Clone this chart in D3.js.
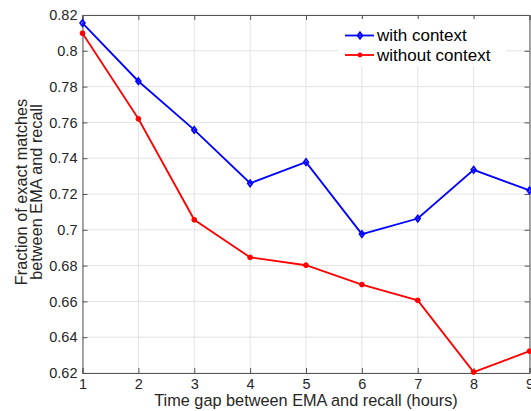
<!DOCTYPE html>
<html>
<head>
<meta charset="utf-8">
<script src="https://cdn.jsdelivr.net/npm/d3@7"></script>
<style>
  body { margin: 0; background: #fff; }
  svg { display: block; font-family: "Liberation Sans", Arial, sans-serif; }
</style>
</head>
<body>
<div id="chart"></div>
<script>
const hours = [1, 2, 3, 4, 5, 6, 7, 8, 9];
const withContext = [0.8155, 0.783, 0.7558, 0.726, 0.7378, 0.6976, 0.7063, 0.7335, 0.722];
const withoutContext = [0.8098, 0.762, 0.7056, 0.6846, 0.6802, 0.6694, 0.6606, 0.6205, 0.6322];
const yTicks = [0.62, 0.64, 0.66, 0.68, 0.7, 0.72, 0.74, 0.76, 0.78, 0.8, 0.82];
const seriesNames = ["with context", "without context"];

const W = 531, H = 411;
const margin = {top: 15, right: 1.5, bottom: 38, left: 82.5};
const width = W - margin.left - margin.right;
const height = H - margin.top - margin.bottom;

const svg = d3.select("#chart").append("svg")
    .attr("width", W).attr("height", H);
const g = svg.append("g").attr("transform", `translate(${margin.left},${margin.top})`);

const x = d3.scaleLinear().domain([1, 9]).range([0, width]);
const y = d3.scaleLinear().domain([0.62, 0.82]).range([height, 0]);

// grid
g.append("g").selectAll("line.gx").data(hours).enter().append("line")
    .attr("x1", d => x(d)).attr("x2", d => x(d)).attr("y1", 0).attr("y2", height)
    .attr("stroke", "#e3e3e3").attr("stroke-width", 1);
g.append("g").selectAll("line.gy").data(yTicks).enter().append("line")
    .attr("x1", 0).attr("x2", width).attr("y1", d => y(d)).attr("y2", d => y(d))
    .attr("stroke", "#e3e3e3").attr("stroke-width", 1);

// axes (ticks inward, MATLAB style)
const axisColor = "#262626";
const fmt = d => String(+d.toFixed(2));
const xAxis = g.append("g").attr("transform", `translate(0,${height})`)
    .call(d3.axisBottom(x).tickValues(hours).tickSize(-5).tickPadding(6).tickFormat(d3.format("d")));
const yAxis = g.append("g")
    .call(d3.axisLeft(y).tickValues(yTicks).tickSize(-5).tickPadding(5).tickFormat(fmt));
const xTop = g.append("g")
    .call(d3.axisTop(x).tickValues(hours).tickSize(-5).tickFormat(""));
const yRight = g.append("g").attr("transform", `translate(${width},0)`)
    .call(d3.axisRight(y).tickValues(yTicks).tickSize(-5).tickFormat(""));
[xAxis, yAxis, xTop, yRight].forEach(a => {
    a.selectAll("path").attr("stroke", "#555").attr("stroke-width", 1);
    a.selectAll("line").attr("stroke", "#555");
    a.selectAll("text").attr("fill", axisColor).style("font-size", "14.5px");
});

// lines
const line = d3.line().x((d, i) => x(hours[i])).y(d => y(d));
g.append("path").datum(withoutContext).attr("d", line)
    .attr("fill", "none").attr("stroke", "#ff0000").attr("stroke-width", 1.8);
g.append("path").datum(withContext).attr("d", line)
    .attr("fill", "none").attr("stroke", "#0000ff").attr("stroke-width", 1.8);

const diamond = (cx, cy, s) => `M${cx},${cy - s}L${cx + s * 0.75},${cy}L${cx},${cy + s}L${cx - s * 0.75},${cy}Z`;
g.append("g").selectAll("path").data(withContext).enter().append("path")
    .attr("d", (d, i) => diamond(x(hours[i]), y(d), 3.3))
    .attr("fill", "#0000ff").attr("fill-opacity", 0.35)
    .attr("stroke", "#0000ff").attr("stroke-width", 1.6);
g.append("g").selectAll("circle").data(withoutContext).enter().append("circle")
    .attr("cx", (d, i) => x(hours[i])).attr("cy", d => y(d)).attr("r", 2.4)
    .attr("fill", "#ff0000").attr("stroke", "#ff0000").attr("stroke-width", 1);

// legend
const leg = svg.append("g");
leg.append("rect").attr("x", 338).attr("y", 19).attr("width", 168).attr("height", 47).attr("fill", "#fff");
const legRows = [
    {name: seriesNames[0], color: "#0000ff", y: 35.5, mark: "d"},
    {name: seriesNames[1], color: "#ff0000", y: 55, mark: "o"}
];
legRows.forEach(r => {
    leg.append("line").attr("x1", 345).attr("x2", 374).attr("y1", r.y).attr("y2", r.y)
        .attr("stroke", r.color).attr("stroke-width", 1.8);
    if (r.mark === "d") {
        leg.append("path").attr("d", diamond(360, r.y, 3.3))
            .attr("fill", r.color).attr("fill-opacity", 0.35).attr("stroke", r.color).attr("stroke-width", 1.6);
    } else {
        leg.append("circle").attr("cx", 360).attr("cy", r.y).attr("r", 2.4).attr("fill", r.color);
    }
    leg.append("text").attr("x", 377).attr("y", r.y).attr("dy", "0.35em")
        .style("font-size", "17px").attr("fill", "#000").text(r.name);
});

// axis titles
svg.append("text").attr("x", margin.left + width / 2).attr("y", 406)
    .attr("text-anchor", "middle").style("font-size", "16.3px").attr("fill", axisColor)
    .text("Time gap between EMA and recall (hours)");
const yl = svg.append("text").attr("transform", `translate(0,${margin.top + height / 2 - 2}) rotate(-90)`)
    .attr("text-anchor", "middle").style("font-size", "16.3px").attr("fill", axisColor);
yl.append("tspan").attr("x", 0).attr("y", 27.4).text("Fraction of exact matches");
yl.append("tspan").attr("x", 0).attr("y", 42.4).text("between EMA and recall");
</script>
</body>
</html>
